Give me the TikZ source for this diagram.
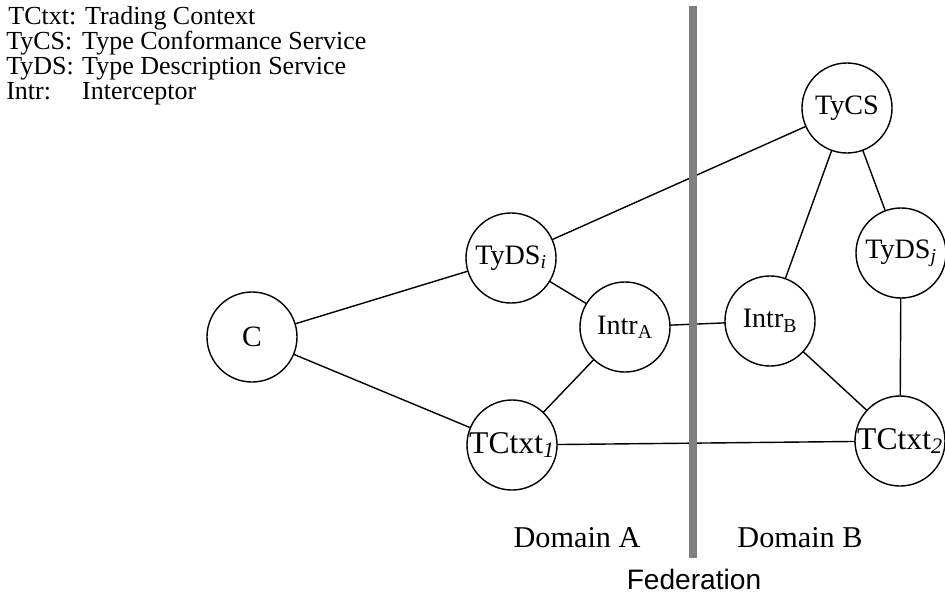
\documentclass[tikz,border=0pt]{standalone}
\usepackage{fontspec}
\setmainfont{Liberation Serif}
\newfontfamily\fedfont{Liberation Sans}
\usetikzlibrary{positioning}
\tikzset{
  svc/.style={draw, circle, line width=1pt, minimum size=2.25cm, inner sep=0pt, font=\fontsize{20}{24}\selectfont},
  ctxt/.style={svc, font=\fontsize{22.5}{24}\selectfont},
  link/.style={line width=1pt},
  fedbar/.style={line width=5.7pt, draw=black!50, line cap=butt},
}
\begin{document}
\begin{tikzpicture}[x=0.025cm, y=-0.025cm, line cap=round, line join=round]
		\useasboundingbox (0,0) rectangle (945,598);
		% legend
		\node[anchor=north west, inner sep=0pt, align=left, font=\fontsize{18.5}{17.8}\selectfont] (legend) at (6,6)
			{\makebox[56pt][l]{\hspace{1.5pt}TCtxt:}Trading Context\\
			 \makebox[54pt][l]{TyCS:}Type Conformance Service\\
			 \makebox[54pt][l]{TyDS:}Type Description Service\\
			 \makebox[54pt][l]{Intr:}Interceptor};
		% domain A
		\node[svc, font=\fontsize{21}{24}\selectfont] (C) at (252,337) {C};
		\node[svc] (tydsI) at (511,258) {TyDS\textsubscript{\itshape i}};
		\node[svc] (intrA) at (625,327) {Intr\textsubscript{A}};
		\node[ctxt] (tctxtA) at (512,445) {TCtxt\textsubscript{\itshape 1}};
		% domain B
		\node[svc] (tycs) at (847,108) {TyCS};
		\node[svc] (tydsJ) at (901,253) {TyDS\textsubscript{\itshape j}};
		\node[svc] (intrB) at (770,321) {Intr\textsubscript{B}};
		\node[ctxt] (tctxtB) at (900,441) {TCtxt\textsubscript{\itshape 2}};
		\draw[link] (C)--(tydsI) (C)--(tctxtA) (tydsI)--(intrA) (tydsI)--(tycs) (intrA)--(tctxtA);
		\draw[link] (intrA)--(intrB) (tctxtA)--(tctxtB);
		\draw[link] (tycs)--(intrB) (tycs)--(tydsJ) (tydsJ)--(tctxtB) (intrB)--(tctxtB);
		% federation border
		\draw[fedbar] (693,6)--(693,558);
		\node[anchor=base, font=\fontsize{21.5}{24}\selectfont] (domA) at (577,547) {Domain A};
		\node[anchor=base, font=\fontsize{21.5}{24}\selectfont] (domB) at (800,547) {Domain B};
		\node[anchor=base, font=\fedfont\fontsize{20}{24}\selectfont] (fed) at (694,589) {Federation};
\end{tikzpicture}
\end{document}
